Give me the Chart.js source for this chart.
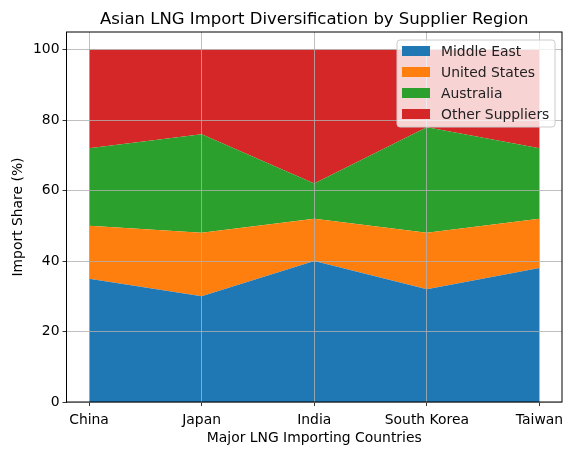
<!DOCTYPE html>
<html>
<head>
<meta charset="utf-8">
<script src="https://cdn.jsdelivr.net/npm/chart.js@4"></script>
<style>
  html, body { margin: 0; padding: 0; background: #fff; }
  #wrap { width: 572px; height: 455px; }
</style>
</head>
<body>
<div id="wrap"><canvas id="c" width="572" height="455"></canvas></div>
<script>
const countries = ['China', 'Japan', 'India', 'South Korea', 'Taiwan'];
const middleEast = [35, 30, 40, 32, 38];
const unitedStates = [15, 18, 12, 16, 14];
const australia = [22, 28, 10, 30, 20];
const otherSuppliers = [28, 24, 38, 22, 28];
const yTicks = [0, 20, 40, 60, 80, 100];

const FONT = 'DejaVu Sans';

function series(label, values, color, fill) {
	return {
		label: label,
		data: values.map((v, i) => ({ x: i, y: v })),
		backgroundColor: color,
		borderWidth: 0,
		pointRadius: 0,
		fill: fill,
		tension: 0,
	};
}

// frame, title and legend box drawn by hand, matplotlib style
const decor = {
	id: 'decor',
	afterDraw(chart) {
		const ctx = chart.ctx;
		const a = chart.chartArea;
		ctx.save();
		ctx.strokeStyle = '#000';
		ctx.lineWidth = 1;
		ctx.strokeRect(a.left, a.top, a.right - a.left, a.bottom - a.top);

		ctx.fillStyle = '#000';
		ctx.font = '16.5px "' + FONT + '"';
		ctx.textAlign = 'center';
		ctx.textBaseline = 'alphabetic';
		ctx.fillText('Asian LNG Import Diversification by Supplier Region', (a.left + a.right) / 2, 24);

		// legend
		const lx = 397, ly = 40, lw = 158, lh = 87;
		ctx.beginPath();
		ctx.roundRect(lx, ly, lw, lh, 3);
		ctx.fillStyle = 'rgba(255,255,255,0.8)';
		ctx.fill();
		ctx.strokeStyle = '#cccccc';
		ctx.lineWidth = 1;
		ctx.stroke();
		ctx.font = '13.9px "' + FONT + '"';
		ctx.textAlign = 'left';
		ctx.textBaseline = 'middle';
		chart.data.datasets.forEach((ds, i) => {
			const cy = 51 + i * 21;
			ctx.fillStyle = ds.backgroundColor;
			ctx.fillRect(402, cy - 5, 28, 10);
			ctx.fillStyle = '#222';
			ctx.fillText(ds.label, 441, cy + 1);
		});
		ctx.restore();
	}
};

new Chart(document.getElementById('c'), {
	type: 'line',
	data: {
		datasets: [
			series('Middle East', middleEast, '#1f77b4', 'origin'),
			series('United States', unitedStates, '#ff7f0e', '-1'),
			series('Australia', australia, '#2ca02c', '-1'),
			series('Other Suppliers', otherSuppliers, '#d62728', '-1'),
		]
	},
	options: {
		responsive: false,
		animation: false,
		layout: { padding: { top: 32, right: 10, left: 0, bottom: 0 } },
		plugins: {
			legend: { display: false },
			title: { display: false },
			tooltip: { enabled: false },
		},
		scales: {
			x: {
				type: 'linear',
				min: -0.2,
				max: 4.2,
				afterBuildTicks: s => { s.ticks = countries.map((c, i) => ({ value: i })); },
				afterFit: s => { s.height = 53; },
				ticks: {
					color: '#000',
					font: { family: FONT, size: 13.9 },
					padding: 6,
					maxRotation: 0,
					autoSkip: false,
					callback: v => countries[v],
				},
				grid: { z: 1, color: '#b0b0b0', lineWidth: 0.8, tickColor: '#000', tickLength: 4 },
				border: { display: false },
				title: {
					display: true,
					text: 'Major LNG Importing Countries',
					color: '#000',
					font: { family: FONT, size: 13.9 },
					padding: { top: 0, bottom: 8 },
				},
			},
			y: {
				stacked: true,
				min: 0,
				max: 105,
				afterBuildTicks: s => { s.ticks = yTicks.map(v => ({ value: v })); },
				afterFit: s => { s.width = 66.5; },
				ticks: {
					color: '#000',
					font: { family: FONT, size: 13.9 },
					padding: 3,
				},
				grid: { z: 1, color: '#b0b0b0', lineWidth: 0.8, tickColor: '#000', tickLength: 4 },
				border: { display: false },
				title: {
					display: true,
					text: 'Import Share (%)',
					color: '#000',
					font: { family: FONT, size: 13.9 },
					padding: { top: 10, bottom: 0 },
				},
			},
		},
	},
	plugins: [decor],
});
</script>
</body>
</html>
